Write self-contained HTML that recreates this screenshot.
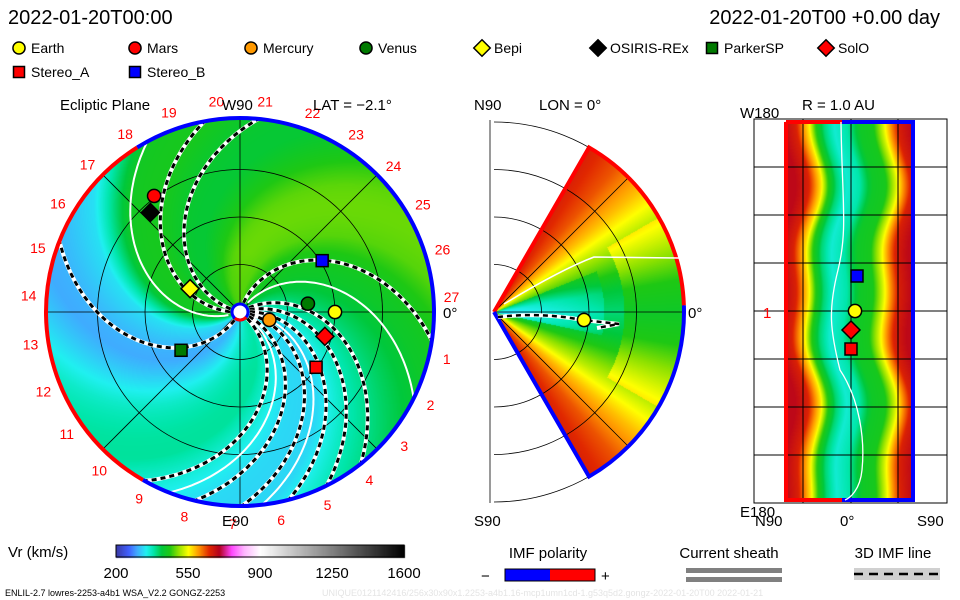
<!DOCTYPE html>
<html><head><meta charset="utf-8">
<style>
html,body{margin:0;padding:0;background:#fff;}
#wrap{position:relative;width:960px;height:600px;overflow:hidden;}
canvas,svg{position:absolute;left:0;top:0;}
text{font-family:"Liberation Sans",sans-serif;}
</style></head>
<body>
<div id="wrap">
<canvas id="cv" width="960" height="600"></canvas>
<svg id="sv" width="960" height="600" xmlns="http://www.w3.org/2000/svg">
<g font-size="20" fill="#000">
<text x="8" y="24">2022-01-20T00:00</text>
<text x="940" y="24" text-anchor="end">2022-01-20T00 +0.00 day</text>
</g>
<g id="legend" font-size="14"></g>
<g id="main"></g>
<g id="mid"></g>
<g id="right"></g>
<g id="bottom" font-size="15"></g>
</svg>
</div>
<script>
// ---- data ----
const spiralPhaseAngles=[0,30,60,90,120,150,180,200,220,250,280,310,340];
const spiralPhaseSpeeds=[330,380,450,480,470,440,450,430,330,315,355,380,345];
const elevAngles=[0,10,20,30,40,50,60];
const elevSpeeds=[400,420,470,520,580,630,660];
const latPositions=[0,10,15,20,25,32,40,50,60,70,78,84,90,100];
const latSpeeds=[690,660,610,560,470,400,360,380,440,450,530,600,660,690];
const imfBaseAngles=[182,166,73,240,30,18,6,-8,-22,-38];
const sheathBaseAngles=[200,55,-2,-30];
const bodyNames=["Earth","Mars","Mercury","Venus","Bepi","OSIRIS-REx","ParkerSP","SolO","Stereo_A","Stereo_B"];
const bodyR=[1.0,1.52,0.32,0.72,0.58,1.41,0.74,0.93,0.99,1.02];
const bodyLon=[0,126.5,-15,7,155,132,213,-16,-36,32];
const bodyShape=["circle","circle","circle","circle","diamond","diamond","square","diamond","square","square"];
const bodyColor=["#ffff00","#ff0000","#ff9900","#007a00","#ffff00","#000000","#007a00","#ff0000","#ff0000","#0000ff"];
const radialMarkers=["Stereo_B","Earth","SolO","Stereo_A"];
const radialMarkerLat=[3,2,0,0];
const radialMarkerLon=[-35,0,19,38];
const cbTicks=[200,550,900,1250,1600];
const numLabels=[1,2,3,4,5,6,7,8,9,10,11,12,13,14,15,16,17,18,19,20,21,22,23,24,25,26,27];

// ---- colormap ----
const cmV=[200,260,300,345,380,420,460,500,550,600,650,700,760,820,900,1600];
const cmC=[[58,58,168],[64,96,255],[64,170,255],[32,240,240],[0,230,170],[0,200,60],[30,200,20],[140,225,0],[255,255,0],[255,150,0],[225,40,0],[180,0,30],[255,70,255],[255,180,255],[255,255,255],[0,0,0]];
function cmap(v){
  if(v<=cmV[0])return cmC[0];
  for(let i=1;i<cmV.length;i++){if(v<=cmV[i]){const t=(v-cmV[i-1])/(cmV[i]-cmV[i-1]);const a=cmC[i-1],b=cmC[i];return [a[0]+(b[0]-a[0])*t,a[1]+(b[1]-a[1])*t,a[2]+(b[2]-a[2])*t];}}
  return cmC[cmC.length-1];
}
function interp(xs,ys,x){
  if(x<=xs[0])return ys[0];
  for(let i=1;i<xs.length;i++){if(x<=xs[i]){const t=(x-xs[i-1])/(xs[i]-xs[i-1]);return ys[i-1]+(ys[i]-ys[i-1])*t;}}
  return ys[ys.length-1];
}
function phaseSpeed(phi){
  phi=((phi%360)+360)%360;
  const xs=spiralPhaseAngles.concat([360]),ys=spiralPhaseSpeeds.concat([spiralPhaseSpeeds[0]]);
  return interp(xs,ys,phi);
}

// ---- geometry ----
const CX=240,CY=312,R=194,AU=95,PITCH=0.42;
const MX=494,MY=312,MR=190;
const RX0=785,RX1=913,RY0=122,RY1=500;
const cv=document.getElementById('cv'),ctx=cv.getContext('2d');
const img=ctx.createImageData(960,600);
function put(x,y,c){const i=(y*960+x)*4;img.data[i]=c[0];img.data[i+1]=c[1];img.data[i+2]=c[2];img.data[i+3]=255;}
for(let i=0;i<img.data.length;i+=4){img.data[i]=255;img.data[i+1]=255;img.data[i+2]=255;img.data[i+3]=255;}
// main disk
for(let y=CY-R;y<=CY+R;y++)for(let x=CX-R;x<=CX+R;x++){
  const dx=x-CX,dy=CY-y,r=Math.hypot(dx,dy);if(r>R)continue;
  const th=Math.atan2(dy,dx)*180/Math.PI;
  const phi=th+PITCH*r;
  let v=phaseSpeed(phi)+14*Math.sin((phi*4)*Math.PI/180)*Math.min(1,r/60);
  put(x,y,cmap(v));
}
// meridional wedge
for(let y=MY-MR;y<=MY+MR;y++)for(let x=MX;x<=MX+MR;x++){
  const dx=x-MX,dy=MY-y,r=Math.hypot(dx,dy);if(r>MR||r<2)continue;
  const e=Math.atan2(dy,dx)*180/Math.PI;if(Math.abs(e)>60)continue;
  let v=interp(elevAngles,elevSpeeds,Math.abs(e));
  if(e>-12&&e<22&&r<110)v-=60*Math.max(0,1-r/110)+20;
  if(r>130&&Math.abs(e)<30)v+=40;
  put(x,y,cmap(v));
}
// radial rectangle
for(let y=RY0;y<=RY1;y++)for(let x=RX0;x<=RX1;x++){
  const p=(x-RX0)/(RX1-RX0)*100+5*Math.sin(y/38)+3*Math.sin(y/17);
  let v=interp(latPositions,latSpeeds,p);
  put(x,y,cmap(v));
}
// colorbar
for(let x=116;x<=404;x++){const v=200+(x-116)/288*1400;const c=cmap(v);for(let y=545;y<=557;y++)put(x,y,c);}
ctx.putImageData(img,0,0);

// ---- svg helpers ----
const NS="http://www.w3.org/2000/svg";
function mk(tag,attrs,parent){const e=document.createElementNS(NS,tag);for(const k in attrs)e.setAttribute(k,attrs[k]);parent.appendChild(e);return e;}
function txt(parent,x,y,s,attrs){const e=mk('text',Object.assign({x:x,y:y},attrs||{}),parent);e.textContent=s;return e;}
function marker(parent,shape,x,y,col,s){
  let e;
  if(shape==='circle')e=mk('circle',{cx:x,cy:y,r:s*0.55,fill:col,stroke:'#000','stroke-width':1.5},parent);
  else if(shape==='square')e=mk('rect',{x:x-s/2,y:y-s/2,width:s,height:s,fill:col,stroke:'#000','stroke-width':1.5},parent);
  else e=mk('polygon',{points:`${x},${y-s*0.75} ${x+s*0.75},${y} ${x},${y+s*0.75} ${x-s*0.75},${y}`,fill:col,stroke:'#000','stroke-width':1.5},parent);
  return e;
}

// ---- legend ----
const lg=document.getElementById('legend');
const legX=[19,135,251,366,482,598,712,826,19,135];
const legY=[48,48,48,48,48,48,48,48,72,72];
bodyNames.forEach((n,i)=>{
  const m=marker(lg,bodyShape[i],legX[i],legY[i],bodyColor[i],11);
  
  
  const t=txt(lg,legX[i]+12,legY[i]+5,n);
  
  
});

// ---- main panel ----
const mg=document.getElementById('main');
const clip=mk('clipPath',{id:'diskclip'},mk('defs',{},mg));
mk('circle',{cx:CX,cy:CY,r:R},clip);
const grid=mk('g',{stroke:'#000','stroke-width':0.8,fill:'none'},mg);

[0.5,1,1.5].forEach(a=>mk('circle',{cx:CX,cy:CY,r:a*AU},grid));
[0,45,90,135].forEach(a=>{const c=Math.cos(a*Math.PI/180)*R,s=Math.sin(a*Math.PI/180)*R;mk('line',{x1:CX-c,y1:CY+s,x2:CX+c,y2:CY-s},grid);});
function spiralPath(th0,rs){let d='';for(let r=rs;r<=R;r+=2){const th=(th0-PITCH*r)*Math.PI/180;const x=CX+r*Math.cos(th),y=CY-r*Math.sin(th);d+=(d?'L':'M')+x.toFixed(1)+','+y.toFixed(1);}return d;}
const sg=mk('g',{'clip-path':'url(#diskclip)',fill:'none'},mg);
sheathBaseAngles.forEach(a=>{const p=mk('path',{d:spiralPath(a,12),stroke:'#fff','stroke-width':2},sg);
  });
imfBaseAngles.forEach(a=>{const d=spiralPath(a,10);
  const w=mk('path',{d:d,stroke:'#fff','stroke-width':4},sg);
  
  const b=mk('path',{d:d,stroke:'#000','stroke-width':3,'stroke-dasharray':'5,4'},sg);
  });
function arc(cx,cy,r,a0,a1){const p0=[cx+r*Math.cos(a0*Math.PI/180),cy-r*Math.sin(a0*Math.PI/180)],p1=[cx+r*Math.cos(a1*Math.PI/180),cy-r*Math.sin(a1*Math.PI/180)];const large=Math.abs(a1-a0)>180?1:0;return `M${p0[0]},${p0[1]}A${r},${r} 0 ${large} ${a1>a0?0:1} ${p1[0]},${p1[1]}`;}
let e=mk('path',{d:arc(CX,CY,R,122,240),stroke:'#ff0000','stroke-width':4,fill:'none'},mg);

e=mk('path',{d:arc(CX,CY,R,240,482),stroke:'#0000ff','stroke-width':4,fill:'none'},mg);

e=mk('circle',{cx:CX,cy:CY,r:8,fill:'#fff',stroke:'#0000ff','stroke-width':3},mg);

mk('path',{d:arc(CX,CY,8,230,320),stroke:'#ff0000','stroke-width':3,fill:'none'},mg);
bodyNames.forEach((n,i)=>{
  const th=bodyLon[i]*Math.PI/180,r=bodyR[i]*AU;
  const m=marker(mg,bodyShape[i],CX+r*Math.cos(th),CY-r*Math.sin(th),bodyColor[i],12);
  
  
});
const nl=mk('g',{fill:'#ff0000','font-size':14,'text-anchor':'middle'},mg);

numLabels.forEach(k=>{const a=(4+(27-k)*13.2)*Math.PI/180;const t=txt(nl,CX+212*Math.cos(a),CY-212*Math.sin(a)+5,String(k));
  });
const mt=mk('g',{'font-size':15,fill:'#000'},mg);
txt(mt,60,110,'Ecliptic Plane',{});
txt(mt,222,110,'W90',{});
txt(mt,313,110,'LAT = \u22122.1\u00b0',{});
txt(mt,222,526,'E90',{});
txt(mt,443,318,'0\u00b0',{});

// ---- middle panel ----
const md=document.getElementById('mid');
const mgr=mk('g',{stroke:'#000','stroke-width':0.8,fill:'none'},md);

mk('line',{x1:490,y1:120,x2:490,y2:503},mgr);
[0.5,1,1.5,2].forEach(a=>{const r=a*MR/2;mk('path',{d:arc(MX,MY,r,90,-90)},mgr);});
[-45,0,45].forEach(a=>{const t=a*Math.PI/180;mk('line',{x1:MX,y1:MY,x2:MX+MR*Math.cos(t),y2:MY-MR*Math.sin(t)},mgr);});
function pt(r,a){return [MX+r*Math.cos(a*Math.PI/180),MY-r*Math.sin(a*Math.PI/180)];}
let p1=pt(MR,60);
e=mk('path',{d:`M${MX},${MY}L${p1[0]},${p1[1]}`+arc(MX,MY,MR,60,2).replace('M','L'),stroke:'#ff0000','stroke-width':4,fill:'none'},md);

e=mk('path',{d:arc(MX,MY,MR,2,-60)+`L${MX},${MY}`,stroke:'#0000ff','stroke-width':4,fill:'none'},md);

mk('path',{d:`M${MX+4},${MY+5}Q540,312 ${MX+89},${MY+8}L${MX+125},${MY+12}L${MX+103},${MY+16}`,stroke:'#fff','stroke-width':4,fill:'none'},md);
e=mk('path',{d:`M${MX+4},${MY+5}Q540,312 ${MX+89},${MY+8}L${MX+125},${MY+12}L${MX+103},${MY+16}`,stroke:'#000','stroke-width':2.5,'stroke-dasharray':'5,4',fill:'none'},md);

e=mk('path',{d:`M${MX+10},${MY-8}Q560,270 ${MX+100},${MY-55}L${MX+185},${MY-54}`,stroke:'#fff','stroke-width':1.5,fill:'none'},md);

e=marker(md,'circle',MX+90,MY+8,'#ffff00',12);

const mdt=mk('g',{'font-size':15,fill:'#000'},md);
txt(mdt,474,110,'N90',{});
txt(mdt,539,110,'LON = 0\u00b0',{});
txt(mdt,474,526,'S90',{});
txt(mdt,688,318,'0\u00b0',{});

// ---- right panel ----
const rg=document.getElementById('right');
const rgr=mk('g',{stroke:'#000','stroke-width':1,fill:'none'},rg);

mk('rect',{x:754,y:119,width:193,height:384},rgr);
[803,851,898].forEach(x=>mk('line',{x1:x,y1:119,x2:x,y2:503},rgr));
[167,215,263,311,359,407,455].forEach(y=>mk('line',{x1:754,y1:y,x2:947,y2:y},rgr));
e=mk('path',{d:`M${RX0+1},${RY0}L842,${RY0}M${RX0+1},${RY0}L${RX0+1},${RY1}L842,${RY1}`,stroke:'#ff0000','stroke-width':4,fill:'none'},rg);

e=mk('path',{d:`M842,${RY0}L${RX1},${RY0}L${RX1},${RY1}L842,${RY1}`,stroke:'#0000ff','stroke-width':4,fill:'none'},rg);

e=mk('path',{d:'M841,122C842,200 848,230 838,270C828,310 830,330 840,370C860,400 865,440 862,470C860,490 850,498 845,500',stroke:'#fff','stroke-width':1.3,fill:'none'},rg);

radialMarkers.forEach((n,j)=>{const i=bodyNames.indexOf(n);
  const m=marker(rg,bodyShape[i],851+radialMarkerLat[j]*2,311+radialMarkerLon[j],bodyColor[i],12);
  });
const rt=mk('g',{'font-size':15,fill:'#000'},rg);
txt(rt,802,110,'R = 1.0 AU',{});
txt(rt,740,118,'W180',{});
txt(rt,740,517,'E180',{});
txt(rt,763,318,'1',{fill:'#ff0000',});
txt(rt,755,526,'N90',{});
txt(rt,840,526,'0\u00b0',{});
txt(rt,917,526,'S90',{});

// ---- bottom ----
const bt=document.getElementById('bottom');
mk('rect',{x:116,y:545,width:288,height:12,fill:'none',stroke:'#000','stroke-width':1},bt);
txt(bt,8,557,'Vr (km/s)',{});
cbTicks.forEach(v=>{const t=txt(bt,116+(v-200)/1400*288,578,String(v),{'text-anchor':'middle'});
  });
txt(bt,548,558,'IMF polarity',{'text-anchor':'middle',});
mk('rect',{x:505,y:569,width:45,height:12,fill:'#0000ff',},bt);
mk('rect',{x:550,y:569,width:45,height:12,fill:'#ff0000',},bt);
mk('rect',{x:505,y:569,width:90,height:12,fill:'none',stroke:'#000'},bt);
txt(bt,481,581,'\u2212',{});
txt(bt,601,581,'+',{});
txt(bt,729,558,'Current sheath',{'text-anchor':'middle',});
mk('rect',{x:686,y:568,width:96,height:5,fill:'#808080',},bt);
mk('rect',{x:686,y:577,width:96,height:5,fill:'#808080',},bt);
txt(bt,893,558,'3D IMF line',{'text-anchor':'middle',});
mk('rect',{x:854,y:568,width:86,height:12,fill:'#d0d0d0',},bt);
mk('line',{x1:854,y1:574,x2:940,y2:574,stroke:'#000','stroke-width':2.5,'stroke-dasharray':'9,6',},bt);
txt(bt,5,596,'ENLIL-2.7 lowres-2253-a4b1 WSA_V2.2 GONGZ-2253',{'font-size':9,});
txt(bt,322,596,'UNIQUE0121142416/256x30x90x1.2253-a4b1.16-mcp1umn1cd-1.g53q5d2.gongz-2022-01-20T00    2022-01-21',{'font-size':9,fill:'#e4e4e4',});
</script>
</body></html>
